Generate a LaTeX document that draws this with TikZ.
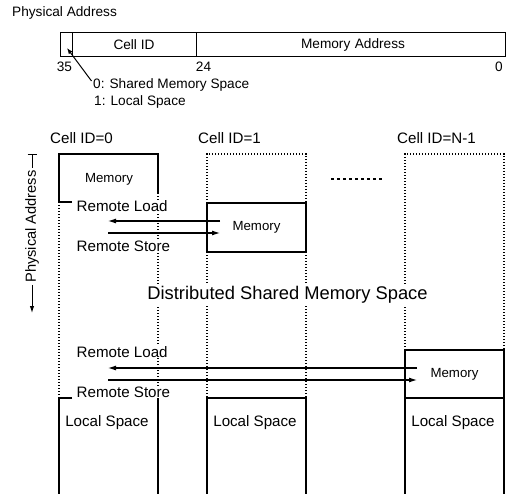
\documentclass[tikz,border=0pt]{standalone}
\usepackage{fontspec}
\setmainfont{Liberation Sans}
\usetikzlibrary{arrows.meta}
\begin{document}
\begin{tikzpicture}[x=1bp,y=-1bp,
  solidln/.style={line width=1.1bp},
  dotln/.style={line width=1.2bp, dash pattern=on 1.3bp off 1.7bp},
  lbl/.style={inner sep=0pt, font=\fontsize{13.7}{16}\selectfont},
  big/.style={inner sep=0pt, font=\fontsize{15.2}{18}\selectfont},
  remote/.style={inner sep=0.5bp, fill=white, anchor=west, font=\fontsize{15.2}{18}\selectfont},
  memlbl/.style={inner sep=0pt, font=\fontsize{13.3}{16}\selectfont},
  field/.style={draw, line width=1bp, minimum height=24bp, inner sep=0pt, font=\fontsize{13.7}{16}\selectfont},
  xfer/.style={line width=1.1bp, -{Latex[length=8bp,width=5bp]}},
  dimtip/.style={line width=1bp},
]
\useasboundingbox (0,0) rectangle (506,494);

% ---- physical address format ----
\node[lbl, anchor=west] (title) at (12,13) {Physical Address};
\node[field, minimum width=12bp] (f0) at (66,45) {};
\node[field, minimum width=124bp] (fcell) at (134,45) {Cell ID};
\node[field, minimum width=309bp, text width=303bp, align=center] (fmem) at (350.5,45) {\hspace*{5bp}Memory Address};
\node[lbl] (n35) at (64.5,67) {35};
\node[lbl] (n24) at (203.5,67) {24};
\node[lbl] (n0) at (499,67) {0};
\node[lbl, anchor=west] (leg0) at (93,85) {0: Shared Memory Space};
\node[lbl, anchor=west] (leg1) at (94,102) {1: Local Space};
\coordinate (ptrs) at (91.5,81);
\coordinate (ptre) at (67,48);
\draw[line width=1bp, -{Latex[length=6bp,width=4.5bp]}] (ptrs) -- (ptre);

% ---- cell labels ----
\node[big, anchor=west] (c0) at (50,138) {Cell ID=0};
\node[big, anchor=west] (c1) at (198,138) {Cell ID=1};
\node[big, anchor=west] (cn) at (397,138) {Cell ID=N-1};

% ---- cell 0 ----
\draw[solidln] (59,202) -- (59,154) -- (158,154) -- (158,193);
\draw[solidln] (59,202) -- (72,202);
\draw[dotln] (59,202) -- (59,398);
\draw[dotln] (158,193) -- (158,398);
\draw[solidln] (72,398) -- (59,398) -- (59,494);
\draw[solidln] (158,398) -- (158,494);
\node[memlbl] (mem0) at (109,179) {Memory};
\node[big] (loc0) at (107,423) {Local Space};

% ---- cell 1 ----
\draw[dotln] (207,203) -- (207,154) -- (306,154) -- (306,203);
\node[draw, solidln, minimum width=99bp, minimum height=49bp, memlbl] (mem1) at (256.5,227.5) {Memory};
\draw[dotln] (207,252) -- (207,398);
\draw[dotln] (306,252) -- (306,398);
\draw[solidln] (207,494) -- (207,398) -- (306,398) -- (306,494);
\node[big] (loc1) at (255,423) {Local Space};

% ---- cell N-1 ----
\draw[dotln] (405,350) -- (405,154) -- (504,154) -- (504,350);
\node[draw, solidln, minimum width=99bp, minimum height=48bp, memlbl] (memn) at (454.5,374) {Memory};
\draw[solidln] (405,398) -- (405,494);
\draw[solidln] (504,398) -- (504,494);
\node[big] (locn) at (453,423) {Local Space};

% ---- ellipsis ----
\draw[line width=2bp, dash pattern=on 2.5bp off 3.5bp] (331,179) -- (382,179);

% ---- shared space label ----
\node[inner sep=1bp, fill=white, font=\fontsize{18.4}{22}\selectfont] (dsm) at (287.5,295) {Distributed Shared Memory Space};

% ---- remote access ----
\node[remote] (rl1) at (76,206) {Remote Load};
\node[remote] (rs1) at (76,246) {Remote Store};
\node[remote] (rl2) at (76,352) {Remote Load};
\node[remote] (rs2) at (76,392) {Remote Store};
\coordinate (l1a) at (220,221); \coordinate (l1b) at (108,221);
\coordinate (s1a) at (108,233); \coordinate (s1b) at (220,233);
\coordinate (l2a) at (417,368); \coordinate (l2b) at (108,368);
\coordinate (s2a) at (108,380); \coordinate (s2b) at (417,380);
\draw[xfer] (l1a) -- (l1b);
\draw[xfer] (s1a) -- (s1b);
\draw[xfer] (l2a) -- (l2b);
\draw[xfer] (s2a) -- (s2b);

% ---- physical address axis ----
\coordinate (dimtop) at (32,154);
\coordinate (dimbot) at (32,313);
\node[inner sep=2bp, rotate=90, font=\fontsize{14.7}{17}\selectfont] (dim) at (32,226.5) {Physical Address};
\draw[dimtip, {Bar[width=9bp]}-] (dimtop) -- (dim.east);
\draw[dimtip, -{Latex[length=7bp,width=4.5bp]}] (dim.west) -- (dimbot);
\end{tikzpicture}
\end{document}
